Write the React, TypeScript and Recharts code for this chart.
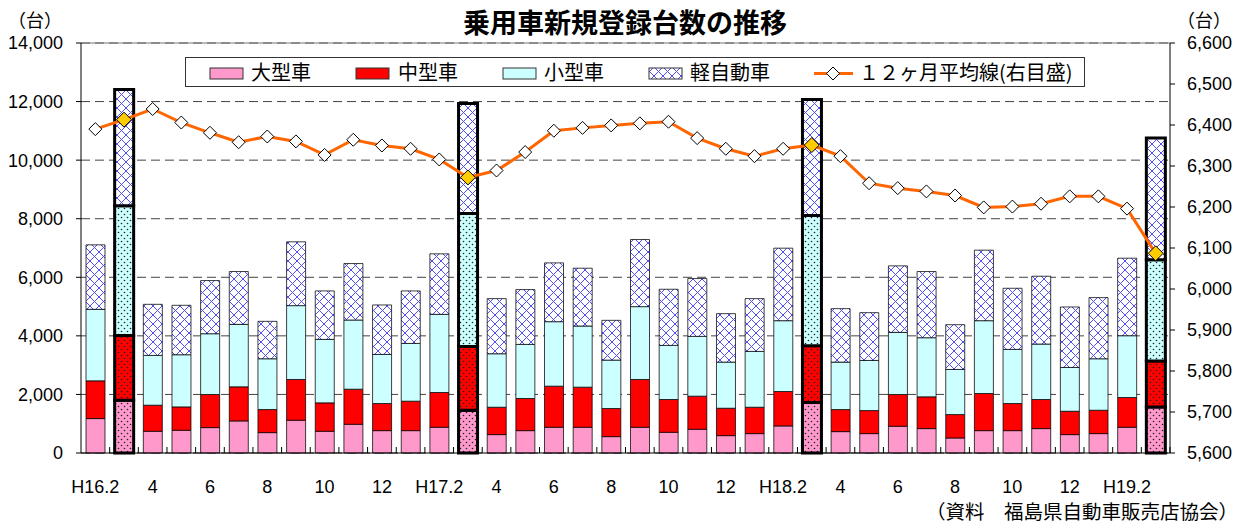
import {
  ComposedChart,
  Bar,
  Line,
  XAxis,
  YAxis,
  CartesianGrid,
  ReferenceLine,
  Cell,
} from 'recharts';

const months = [
  'H16.2', 'H16.3', '4', '5', '6', '7', '8', '9', '10', '11', '12',
  'H17.1', 'H17.2', 'H17.3', '4', '5', '6', '7', '8', '9', '10', '11', '12',
  'H18.1', 'H18.2', 'H18.3', '4', '5', '6', '7', '8', '9', '10', '11', '12',
  'H19.1', 'H19.2', 'H19.3',
];

const large = [
  1175, 1803, 742, 776, 867, 1095, 696, 1118, 742, 981, 764, 764, 879, 1460,
  628, 764, 879, 879, 559, 879, 707, 810, 593, 662, 924, 1723, 730, 662, 913,
  833, 513, 764, 764, 833, 628, 662, 879, 1575,
];
const medium = [
  1289, 2213, 890, 799, 1130, 1164, 787, 1392, 970, 1198, 925, 1005, 1186, 2180,
  935, 1096, 1403, 1369, 959, 1631, 1119, 1130, 936, 901, 1175, 1940, 753, 787,
  1084, 1084, 799, 1267, 925, 993, 798, 798, 1015, 1563,
];
const small = [
  2442, 4427, 1700, 1780, 2076, 2134, 1735, 2522, 2167, 2362, 1677, 1973, 2670,
  4541, 1826, 1848, 2202, 2088, 1654, 2488, 1848, 2042, 1575, 1906, 2419, 4450,
  1621, 1712, 2122, 2019, 1541, 2487, 1848, 1894, 1495, 1758, 2111, 3457,
];
const kei = [
  2202, 3971, 1745, 1688, 1815, 1803, 1278, 2179, 1655, 1928, 1689, 1792, 2065,
  3754, 1882, 1872, 2008, 1974, 1358, 2293, 1917, 1974, 1654, 1802, 2476, 3959,
  1825, 1631, 2271, 2260, 1528, 2408, 2088, 2316, 2065, 2088, 2647, 4165,
];
const avg12 = [
  6390, 6413, 6439, 6406, 6381, 6358, 6372, 6360, 6327, 6364, 6350, 6342, 6316,
  6272, 6289, 6334, 6386, 6393, 6399, 6404, 6408, 6368, 6342, 6324, 6342, 6351,
  6324, 6258, 6246, 6238, 6228, 6199, 6201, 6208, 6226, 6226, 6196, 6087,
];

const leftTicks = [0, 2000, 4000, 6000, 8000, 10000, 12000, 14000];
const rightTicks = [5600, 5700, 5800, 5900, 6000, 6100, 6200, 6300, 6400, 6500, 6600];

const data = months.map((m, i) => ({
  month: m,
  large: large[i],
  medium: medium[i],
  small: small[i],
  kei: kei[i],
  avg: avg12[i],
}));

const isMarch = (m: string) => m.endsWith('.3');

const NUM_FONT = '"Liberation Sans", Arial, sans-serif';
const JP_FONT = '"Noto Sans CJK JP", sans-serif';
const HALF_BAND = 1089 / months.length / 2;

const fmt = (v: number) => v.toLocaleString('en-US');

const MonthTick = (props: any) => {
  const { x, y, payload } = props;
  const i = payload?.index ?? props.index;
  return (
    <g>
      <line x1={x + HALF_BAND} x2={x + HALF_BAND} y1={y} y2={y - 6} stroke="#000" />
      {i % 2 === 0 && (
        <text x={x} y={y + 40} textAnchor="middle" fontSize={18} fontFamily={NUM_FONT} fill="#000">
          {payload.value}
        </text>
      )}
    </g>
  );
};

const Diamond = (props: any) => {
  const { cx, cy, payload, index } = props;
  const march = isMarch(payload.month);
  const r = march ? 7.5 : 6.5;
  return (
    <polygon
      key={`d-${index}`}
      points={`${cx},${cy - r} ${cx + r},${cy} ${cx},${cy + r} ${cx - r},${cy}`}
      fill={march ? '#FFCC00' : '#fff'}
      stroke="#000"
      strokeWidth={1}
    />
  );
};

function Patterns() {
  const dots = (id: string, color: string) => (
    <pattern id={id} width={6} height={6} patternUnits="userSpaceOnUse">
      <rect width={6} height={6} fill={color} />
      <circle cx={1.5} cy={1.5} r={0.8} fill="#222" />
      <circle cx={4.5} cy={4.5} r={0.8} fill="#222" />
    </pattern>
  );
  return (
    <defs>
      <pattern id="hatch" width={9} height={9} patternUnits="userSpaceOnUse">
        <rect width={9} height={9} fill="#fff" />
        <path d="M0,0 L9,9 M9,0 L0,9" stroke="#4f4ff5" strokeWidth={1} />
      </pattern>
      {dots('dotPink', '#FF99CC')}
      {dots('dotRed', '#FF0000')}
      {dots('dotCyan', '#CCFFFF')}
    </defs>
  );
}

const series = [
  { key: 'large', name: '大型車', color: '#FF99CC', dot: 'url(#dotPink)' },
  { key: 'medium', name: '中型車', color: '#FF0000', dot: 'url(#dotRed)' },
  { key: 'small', name: '小型車', color: '#CCFFFF', dot: 'url(#dotCyan)' },
  { key: 'kei', name: '軽自動車', color: 'url(#hatch)', dot: 'url(#hatch)' },
];

function LegendBox() {
  const sw = (left: number, fill: string) => (
    <rect x={left - 185} y={10} width={33} height={11} fill={fill} stroke="#333" strokeWidth={1} />
  );
  const label = (left: number, text: string) => (
    <text x={left - 185} y={22} fontSize={20} fontFamily={JP_FONT} fill="#000">
      {text}
    </text>
  );
  return (
    <svg
      width={900}
      height={30}
      style={{ position: 'absolute', left: 185, top: 57, background: '#fff', border: '1px solid #333', boxSizing: 'border-box' }}
    >
      <Patterns />
      {sw(209, '#FF99CC')}
      {label(250, '大型車')}
      {sw(355, '#FF0000')}
      {label(397, '中型車')}
      {sw(502, '#CCFFFF')}
      {label(543, '小型車')}
      {sw(648, 'url(#hatch)')}
      {label(689, '軽自動車')}
      <line x1={813 - 185} x2={852 - 185} y1={15.5} y2={15.5} stroke="#FF6600" strokeWidth={3} />
      <polygon
        points={`${832 - 185},9 ${838.5 - 185},15.5 ${832 - 185},22 ${825.5 - 185},15.5`}
        fill="#fff"
        stroke="#000"
      />
      {label(858, '１２ヶ月平均線(右目盛)')}
    </svg>
  );
}

export default function App() {
  return (
    <div style={{ position: 'absolute', left: 0, top: 0, width: 1244, height: 524, background: '#fff' }}>
      <ComposedChart
        width={1244}
        height={524}
        data={data}
        margin={{ top: 43, right: 0, bottom: 31, left: 0 }}
      >
        <Patterns />
        <CartesianGrid
          yAxisId="left"
          vertical={false}
          stroke="#444"
          strokeDasharray="9 5"
        />
        <XAxis
          dataKey="month"
          interval={0}
          tickLine={false}
          tickSize={0}
          tickMargin={0}
          height={40}
          axisLine={{ stroke: '#000' }}
          tick={<MonthTick />}
        />
        <YAxis
          yAxisId="left"
          domain={[0, 14000]}
          ticks={leftTicks}
          width={81}
          tickFormatter={fmt}
          tickSize={5}
          tickMargin={13}
          axisLine={{ stroke: '#000' }}
          tickLine={{ stroke: '#000' }}
          tick={{ fontSize: 18, fontFamily: NUM_FONT, fill: '#000' }}
        />
        <YAxis
          yAxisId="right"
          orientation="right"
          domain={[5600, 6600]}
          ticks={rightTicks}
          width={74}
          tickFormatter={fmt}
          tickSize={5}
          tickMargin={12}
          axisLine={{ stroke: '#000' }}
          tickLine={{ stroke: '#000' }}
          tick={{ fontSize: 18, fontFamily: NUM_FONT, fill: '#000', textAnchor: 'start' }}
        />
        <ReferenceLine yAxisId="left" y={14000} stroke="#777" />
        {series.map((s) => (
          <Bar
            key={s.key}
            yAxisId="left"
            dataKey={s.key}
            name={s.name}
            stackId="a"
            barSize={19}
            isAnimationActive={false}
          >
            {data.map((d, i) => (
              <Cell
                key={i}
                fill={isMarch(d.month) ? s.dot : s.color}
                stroke="#000"
                strokeWidth={isMarch(d.month) ? 3 : 1}
                strokeOpacity={isMarch(d.month) ? 1 : 0.75}
              />
            ))}
          </Bar>
        ))}
        <Line
          yAxisId="right"
          dataKey="avg"
          name="１２ヶ月平均線(右目盛)"
          stroke="#FF6600"
          strokeWidth={3}
          dot={Diamond}
          activeDot={false}
          isAnimationActive={false}
        />
      </ComposedChart>

      <div
        style={{
          position: 'absolute',
          left: 0,
          width: 1250,
          top: 4,
          textAlign: 'center',
          fontFamily: JP_FONT,
          fontWeight: 'bold',
          fontSize: 27,
          lineHeight: '36px',
        }}
      >
        乗用車新規登録台数の推移
      </div>
      <div style={{ position: 'absolute', left: 8, top: 6, fontFamily: JP_FONT, fontSize: 18, lineHeight: '26px' }}>
        （台）
      </div>
      <div style={{ position: 'absolute', left: 1177, top: 6, fontFamily: JP_FONT, fontSize: 18, lineHeight: '26px' }}>
        （台）
      </div>
      <LegendBox />
      <div
        style={{
          position: 'absolute',
          right: 6,
          top: 500,
          fontFamily: JP_FONT,
          fontSize: 19.5,
          lineHeight: '22px',
          whiteSpace: 'nowrap',
        }}
      >
        （資料　福島県自動車販売店協会）
      </div>
    </div>
  );
}
